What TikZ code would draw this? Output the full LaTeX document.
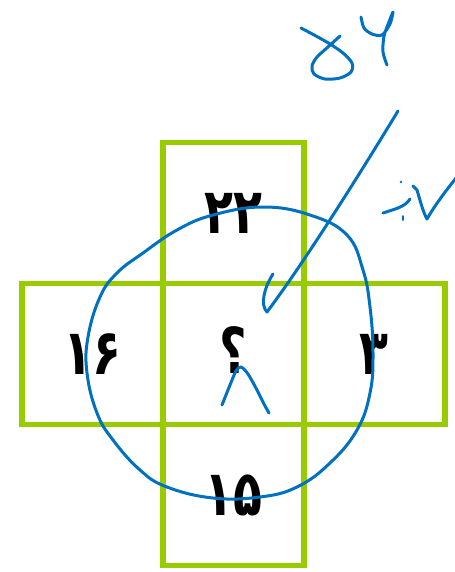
\documentclass[tikz,border=0pt]{standalone}
\usepackage{fontspec}
\newfontfamily\fafont[Script=Arabic]{DejaVu Sans}
\usepackage{tikz}
\usetikzlibrary{positioning}
\definecolor{cellgreen}{HTML}{99CC00}
\definecolor{inkblue}{HTML}{0070C0}
\newcommand\fanum[1]{\scalebox{0.9}[1.2]{#1}}
\tikzset{
  cell/.style={draw=cellgreen, line width=0.11cm, minimum size=2.82cm, outer sep=0pt, inner sep=0pt,
    font=\fafont\bfseries\fontsize{30}{36}\selectfont},
  ink/.style={draw=inkblue, line width=0.06cm, line cap=round, line join=round}
}

\begin{document}
\begin{tikzpicture}[x=0.02cm, y=-0.02cm]
  \useasboundingbox (0,0) rectangle (455,572);
  % the cross of squares
  \node[cell] (mid) at (233.5,354) {\raisebox{4pt}{\fanum{؟}}};
  \node[cell, above=0pt of mid] (up) {\fanum{۲۲}};
  \node[cell, below=0pt of mid] (down) {\fanum{۱۵}};
  \node[cell, left=0pt of mid] (west) {\fanum{۱۶}};
  \node[cell, right=0pt of mid] (east) {\fanum{۳}};
  % hand written marks
  \draw[ink] plot[smooth cycle, tension=0.7] coordinates {(263,207) (310,215) (347,235) (363,270)
    (370,307) (373,353) (370,393) (357,430) (330,463) (297,487) (260,497) (213,498) (167,487)
    (140,470) (113,440) (97,413) (87,373) (88,337) (100,297) (117,273) (143,253) (177,230) (213,215)};
  \draw[ink] (273,274) .. controls (264,288) and (260,305) .. (267,312)
    .. controls (300,268) and (350,190) .. (398,111);
  \draw[ink] (413,186) -- (417,190) .. controls (420,200) and (423,212) .. (427,219)
    .. controls (435,205) and (445,192) .. (456,178);
  \draw[ink] (383,213) .. controls (395,209) and (405,207) .. (410,199);
  \fill[inkblue] (401,182) circle (1.3);
  \draw[ink, line width=0.04cm] (403,216) -- (403,220);
  \draw[ink] plot[smooth] coordinates {(301,28) (316,36) (330,44) (343,53) (352,63) (351,72)
    (340,78) (325,79) (314,74) (312,66) (317,57) (328,47) (340,36)};
  \draw[ink] plot[smooth] coordinates {(361,17) (364,28) (372,34) (382,35) (390,24) (393,12)
    (389,22) (384,36) (383,52) (387,65)};
  \draw[ink] plot[smooth] coordinates {(222,405) (230,385) (236,371) (241,367) (248,374)
    (257,390) (264,404) (269,413)};
\end{tikzpicture}
\end{document}
